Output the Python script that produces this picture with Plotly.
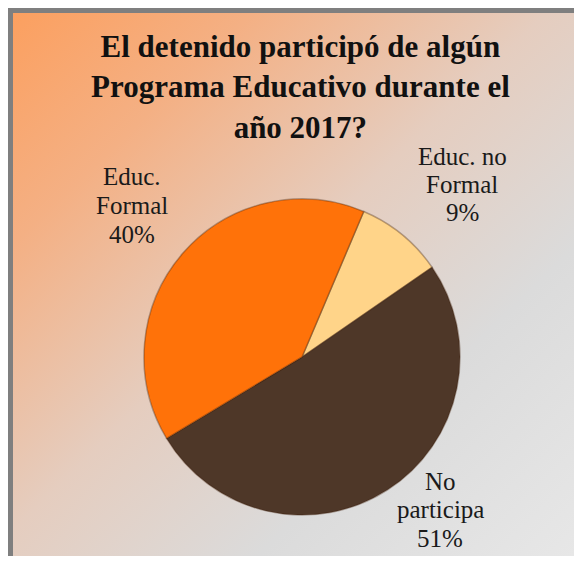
import base64

import plotly.graph_objects as go

OFF = 8  # the page body adds an 8px margin around the figure
W, H = 582 - 2 * OFF, 564 - 2 * OFF  # fit the window, no scrollbars

# data (clockwise, starting from the top-right slice)
labels = ["Educ. no Formal", "No participa", "Educ. Formal"]
label_lines = [["Educ. no", "Formal"], ["No", "participa"], ["Educ.", "Formal"]]
percents = [9, 51, 40]
colors = ["#FFD489", "#4E3728", "#FF7209"]

title_text = "El detenido participó de algún<br>Programa Educativo durante el<br>año 2017?"


# screen pixel -> paper coords
def px(x):
    return (x - OFF) / W


def py(y):
    return 1 - (y - OFF) / H


# diagonal orange -> gray background, as svg
svg = """<svg xmlns='http://www.w3.org/2000/svg' width='600' height='600' preserveAspectRatio='none'>
<defs><linearGradient id='g' x1='0' y1='0' x2='1' y2='1'>
<stop offset='0' stop-color='#FC9F5E'/>
<stop offset='0.22' stop-color='#F4B084'/>
<stop offset='0.48' stop-color='#E5CDBF'/>
<stop offset='0.72' stop-color='#DBDBDB'/>
<stop offset='1' stop-color='#E7E7E7'/>
</linearGradient></defs>
<rect width='600' height='600' fill='url(#g)'/></svg>"""
bg_src = "data:image/svg+xml;base64," + base64.b64encode(svg.encode()).decode()

fig = go.Figure()
fig.add_trace(go.Pie(
    labels=labels,
    values=percents,
    sort=False,
    direction="clockwise",
    rotation=23,
    textinfo="none",
    hoverinfo="label+percent",
    marker=dict(colors=colors, line=dict(color="rgba(60,30,10,0.35)", width=1.5)),
    domain=dict(x=[px(302 - 158), px(302 + 158)], y=[py(357 + 158), py(357 - 158)]),
    showlegend=False,
))

# outside labels, one annotation per line to keep tight line spacing
label_pos = {"Educ. no Formal": (462, 156), "No participa": (440, 481), "Educ. Formal": (132, 177)}
for name, lines, p in zip(labels, label_lines, percents):
    x, y0 = label_pos[name]
    for i, line in enumerate(lines + [f"{p}%"]):
        fig.add_annotation(
            x=px(x), y=py(y0 + i * 28.5), xref="paper", yref="paper",
            text=line, showarrow=False,
            xanchor="center", yanchor="middle",
            font=dict(family="Liberation Serif", size=25, color="#1a1a1a"),
        )

# title
fig.add_annotation(
    x=px(300), y=py(87), xref="paper", yref="paper",
    text=f"<b>{title_text}</b>", showarrow=False, align="center",
    xanchor="center", yanchor="middle",
    font=dict(family="Liberation Serif", size=31, color="#111111"),
)

fig.add_layout_image(
    source=bg_src, xref="paper", yref="paper",
    x=0, y=1, sizex=1, sizey=1,
    xanchor="left", yanchor="top", sizing="stretch", layer="below",
)
fig.add_shape(
    type="rect", xref="paper", yref="paper",
    x0=px(10.5), y0=py(700), x1=px(700), y1=py(10.5),
    line=dict(color="#7F7F7F", width=5),
)

fig.update_layout(
    width=W,
    height=H,
    margin=dict(l=0, r=0, t=0, b=0),
    paper_bgcolor="white",
    plot_bgcolor="rgba(0,0,0,0)",
)

fig.write_html("out.html")
